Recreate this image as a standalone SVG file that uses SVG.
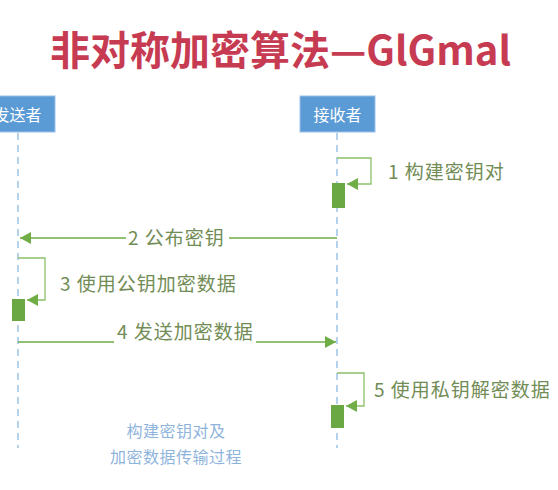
<svg xmlns="http://www.w3.org/2000/svg" width="558" height="490" viewBox="0 0 558 490">
<defs>
<style>
.title{font-family:"Noto Sans CJK SC","Noto Sans",sans-serif;font-weight:bold;font-size:40px;fill:#c73b52}
.box{fill:#5b9bd5;stroke:#9cc0e6;stroke-width:1}
.boxt{font-family:"Noto Sans CJK SC",sans-serif;font-size:16px;fill:#ffffff;text-anchor:middle}
.life{stroke:#9dc3e6;stroke-width:1.5;stroke-dasharray:7 5;fill:none}
.msg{stroke:#70ad47;stroke-width:1.5;fill:none}
.loop{stroke:#8cc06a;stroke-width:1.3;fill:none}
.act{fill:#6aa843}
.lbl{font-family:"Noto Sans CJK SC",sans-serif;font-size:19px;letter-spacing:1px;fill:#728c55}
.note{font-family:"Noto Sans CJK SC",sans-serif;font-size:16px;letter-spacing:0.5px;fill:#8fb4dc;text-anchor:middle}
</style>
<marker id="ah" markerUnits="userSpaceOnUse" markerWidth="12" markerHeight="12" refX="11" refY="6" orient="auto">
<path d="M0,0 L11,6 L0,12 Z" fill="#70ad47"/>
</marker>
</defs>
<rect width="558" height="490" fill="#ffffff"/>
<text class="title" x="50" y="65">非对称加密算法—GlGmal</text>

<g id="sender">
<rect class="box" x="-20" y="96" width="75" height="36"/>
<text class="boxt" x="17.5" y="121">发送者</text>
<line class="life" x1="18" y1="133" x2="18" y2="448"/>
</g>
<g id="receiver">
<rect class="box" x="300" y="96" width="75" height="36"/>
<text class="boxt" x="337.5" y="121">接收者</text>
<line class="life" x1="337" y1="133" x2="337" y2="448"/>
</g>

<g id="activations">
<rect class="act" x="332" y="183" width="13" height="25"/>
<rect class="act" x="12" y="299" width="13" height="22"/>
<rect class="act" x="331" y="405" width="13" height="23"/>
</g>

<g id="connectors">
<path class="loop" d="M337,158 H371 V184 H347" marker-end="url(#ah)"/>
<path class="msg" d="M337,238 H229 M126,238 H20" marker-end="url(#ah)"/>
<path class="loop" d="M18,258 H45 V300 H27" marker-end="url(#ah)"/>
<path class="msg" d="M18,342 H114 M256,342 H336" marker-end="url(#ah)"/>
<path class="loop" d="M337,373 H364 V406 H346" marker-end="url(#ah)"/>
</g>

<g id="labels">
<text class="lbl" x="388" y="179">1 构建密钥对</text>
<text class="lbl" x="128" y="245">2 公布密钥</text>
<text class="lbl" x="60" y="291">3 使用公钥加密数据</text>
<text class="lbl" x="117" y="339">4 发送加密数据</text>
<text class="lbl" x="374" y="397">5 使用私钥解密数据</text>
</g>

<g id="note">
<text class="note" x="176" y="437">构建密钥对及</text>
<text class="note" x="176" y="463">加密数据传输过程</text>
</g>
</svg>
